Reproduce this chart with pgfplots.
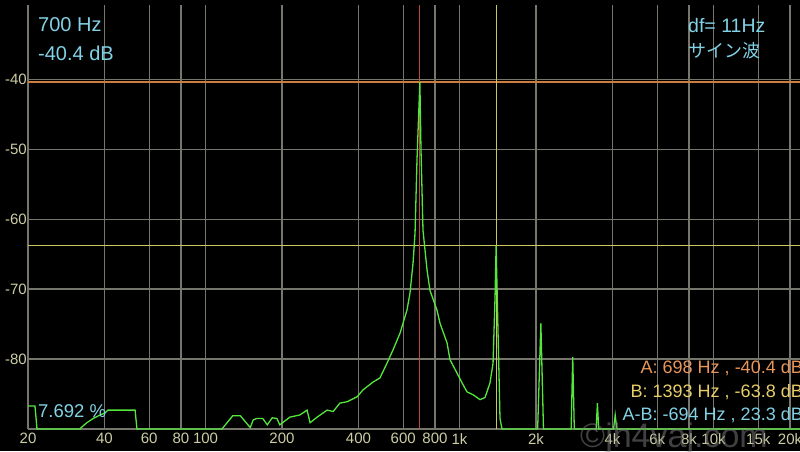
\documentclass[border=0pt]{standalone}
\usepackage{pgfplots}
\pgfplotsset{compat=1.18}
\usepackage{fontspec}
\setmainfont{Liberation Sans}
\newfontfamily\cjk{Noto Sans CJK JP}
\definecolor{gridc}{RGB}{118,118,108}
\definecolor{tickc}{RGB}{205,205,165}
\definecolor{cyanc}{RGB}{130,210,230}
\definecolor{mAh}{RGB}{205,125,60}
\definecolor{mAv}{RGB}{190,75,55}
\definecolor{mB}{RGB}{205,195,95}
\definecolor{txtA}{RGB}{232,150,90}
\definecolor{txtB}{RGB}{232,205,105}
\definecolor{trace}{RGB}{85,230,60}
\begin{document}
\begin{tikzpicture}
\path[use as bounding box] (-28pt,-22pt) rectangle (772pt,429pt);
\fill[black] (-28pt,-22pt) rectangle (772pt,429pt);
\begin{axis}[
  at={(0pt,0pt)}, anchor=south west,
  scale only axis, width=772pt, height=424pt,
  xmode=log, xmin=20, xmax=21900, ymin=-90, ymax=-29.4,
  axis line style={draw=none},
  clip=false,
  xtick={20,40,60,80,100,200,400,600,800,1000,2000,4000,6000,8000,10000,15000,20000},
  xticklabels={20,40,60,80,100,200,400,600,800,1k,2k,4k,6k,8k,10k,15k,20k},
  ytick={-90,-80,-70,-60,-50,-40},
  yticklabels={,-80,-70,-60,-50,-40},
  minor xtick={}, minor ytick={},
  major tick length=0pt,
  grid=major,
  major grid style={draw=gridc, line width=1.2pt},
  xticklabel style={font=\fontsize{15}{18}\selectfont, text=tickc, anchor=north, inner sep=0pt, yshift=-4pt},
  yticklabel style={font=\fontsize{15}{18}\selectfont, text=tickc, anchor=east, inner sep=0pt, xshift=-1pt},
]
\addplot[mAh, line width=1.2pt] coordinates {(20,-40.4) (21900,-40.4)};
\addplot[mB, line width=1.2pt] coordinates {(20,-63.8) (21900,-63.8)};
\addplot[mAv, line width=1.0pt] coordinates {(698,-90) (698,-29.4)};
\addplot[mB, line width=1.2pt] coordinates {(1393,-90) (1393,-29.4)};
\addplot[trace, line width=1.3pt] coordinates {
(20,-86.7) (21.3,-86.7) (21.7,-90) (32.0,-90) (32.6,-89.7) (34.1,-89.1) (36.1,-88.5)
(38.4,-88.0) (40.2,-87.7) (41.3,-87.3) (52.8,-87.3) (53.7,-90) (116,-90) (128,-88.1)
(137,-88.1) (150,-89.8) (154,-88.7) (159,-88.5) (168,-88.5) (175,-89.4) (183,-88.4)
(191,-88.5) (196,-89.4) (215,-88.3) (235,-88.0) (251,-87.3) (258,-89.1) (275,-88.3)
(301,-87.3) (318,-87.5) (338,-86.3) (361,-86.1) (395,-85.4) (417,-84.4) (456,-83.3)
(486,-82.7) (518,-80.6) (547,-78.7) (583,-76.3) (621,-73.0) (638,-70.6) (656,-66.3)
(668,-62) (680,-51.5) (698,-40.4) (705,-50) (718,-61.6) (745,-67.3) (765,-70.2)
(815,-73.0) (838,-74.9) (893,-77.7) (917,-80.1) (977,-82.0) (1023,-83.4) (1070,-84.7)
(1130,-85.1) (1204,-85.8) (1260,-85.5) (1318,-83.4) (1355,-80.6) (1367,-75.9)
(1380,-71) (1393,-63.8) (1417,-75.9) (1443,-88.5) (1470,-90) (2030,-90) (2090,-74.9)
(2140,-90) (2750,-90) (2790,-79.7) (2830,-90) (3450,-90) (3490,-86.3) (3530,-90)
(4040,-90) (4100,-88.0) (4160,-90) (21900,-90)
};
\end{axis}
\begin{scope}[every node/.style={inner sep=0pt}]
\node[anchor=base west, text=cyanc, font=\fontsize{20}{24}\selectfont] at (10pt,397pt) {700 Hz};
\node[anchor=base west, text=cyanc, font=\fontsize{20}{24}\selectfont] at (10pt,369pt) {-40.4 dB};
\node[anchor=base west, text=cyanc, font=\fontsize{19.5}{23}\selectfont] at (660pt,396pt) {df= 11Hz};
\node[anchor=base west, text=cyanc, font=\fontsize{18}{22}\cjk] at (660pt,371pt) {サイン波};
\node[anchor=base west, text=cyanc, font=\fontsize{18.5}{22}\selectfont] at (10pt,12pt) {7.692 \%};
\node[anchor=base east, text=txtA, font=\fontsize{18}{21}\selectfont] at (775pt,56pt) {A: 698 Hz , -40.4 dB};
\node[anchor=base east, text=txtB, font=\fontsize{18}{21}\selectfont] at (775pt,32pt) {B: 1393 Hz , -63.8 dB};
\node[anchor=base east, text=cyanc, font=\fontsize{18}{21}\selectfont] at (775pt,9pt) {A-B: -694 Hz , 23.3 dB};
\node[anchor=base west, text=gray, opacity=0.5, font=\fontsize{34}{40}\selectfont] at (552pt,-18pt) {©jh4vaj.com};
\end{scope}
\end{tikzpicture}
\end{document}
